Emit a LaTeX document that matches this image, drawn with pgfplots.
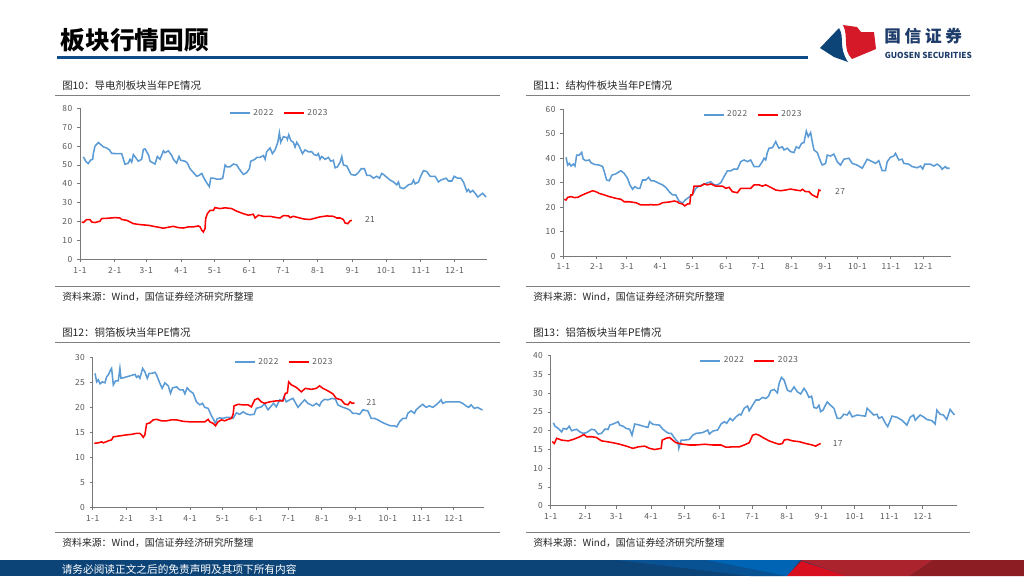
\documentclass[border=0pt]{standalone}
\usepackage{fontspec}
\setmainfont{Noto Sans CJK SC}
\newfontfamily\tickfont[LetterSpace=6]{Noto Sans CJK SC}
\usepackage{pgfplots}
\usepackage{pgfplotstable}
\pgfplotsset{compat=1.18}

\definecolor{txtgray}{RGB}{89,89,89}
\definecolor{axgray}{RGB}{120,120,120}
\definecolor{ttl}{RGB}{38,38,38}
\definecolor{c2022}{RGB}{91,155,213}
\definecolor{c2023}{RGB}{255,0,0}
\definecolor{rulebl}{RGB}{15,75,135}
\definecolor{navy}{RGB}{12,68,120}
\definecolor{logored}{RGB}{213,25,40}
\definecolor{logotxt}{RGB}{30,60,105}
\definecolor{ftblue}{RGB}{0,100,180}
\definecolor{ftmid}{RGB}{8,82,148}
\definecolor{ftred}{RGB}{170,35,45}
\definecolor{ftbright}{RGB}{215,15,30}
\definecolor{ftdark}{RGB}{140,30,35}

% 导电剂 2022 / 2023
\pgfplotstableread{
d v
3.0 54.3
5.4 51.7
7.4 50.8
9.5 52.6
11.3 53.0
11.9 56
13.4 60
16.4 61.9
20.8 59.6
23.8 59
26.2 58
28.3 56.1
37.2 56
40.1 50.4
43.1 51
44.6 53
46.1 51.5
47.6 55.5
52.0 52
55.0 53
56.5 58.2
58.0 58.5
59.5 57
61.3 55
62.5 52
65.4 51
66.9 50.5
69.0 54.5
71.4 53
74.4 57.5
75.8 56.5
78.8 57.5
81.8 55
83.3 53
86.2 51
88.3 54.5
89.8 52.5
93.7 52
95.8 51
98.1 48
101.1 46
104.1 44
106.2 44.5
108.6 45.5
110.6 43
113.6 40
115.4 38.5
116.6 43
119.0 43
121.9 42.5
124.9 42.5
127.3 43
129.4 50
130.9 49
133.8 49
136.8 50.5
139.8 50
141.9 48
145.7 45
148.7 46
151.1 48
152.3 52
156.1 53
157.6 54
160.6 54
163.6 55
165.1 53
166.5 57
169.5 59
171.6 56
174.0 58
176.4 62
177.8 67
179.0 62
181.4 65
184.4 64.5
185.0 63.5
186.2 66
188.0 63
190.3 62
191.8 59.5
193.3 62
195.4 60
196.9 58
198.4 56
200.7 58
203.7 57
206.7 57
208.8 55.5
211.2 55
212.6 56
214.1 53
215.6 54.5
218.6 53
221.6 54
223.6 52
226.0 52.5
227.5 48.5
229.6 49
232.0 51.5
233.5 54.5
234.9 50
237.9 49.5
240.0 47
241.8 45
245.4 44.5
248.3 46
250.7 48
253.7 48
255.8 44.5
258.7 44.5
261.7 43
264.7 44
267.1 43
269.1 45.5
270.6 45
273.6 43.5
276.6 42
279.6 41
282.5 39.5
284.0 41
285.5 38
288.5 37.5
290.0 38
292.9 39.5
295.9 40
297.4 42
298.9 40
301.9 41
303.9 44
306.3 47
309.3 46.5
312.3 44
316.7 44
319.7 41
321.8 42
324.2 42.5
326.5 43
328.6 41.5
331.6 41.5
333.7 44
336.7 43
339.6 43
342.0 41
345.0 36
346.5 37
348.0 35.5
350.3 36.5
352.4 35
354.8 33
356.9 34
359.0 35
360.7 34
362.2 33
}\daoA
\pgfplotstableread{
d v
1.5 19.8
3.0 19.5
5.9 21.1
8.9 21.1
10.4 19.8
13.4 19.5
17.8 20.2
19.3 21.6
25.3 21.8
31.2 22.1
35.7 21.9
37.2 21.1
41.6 20.7
44.6 19.8
47.6 18.9
53.5 18.4
59.5 18.1
62.5 17.9
65.4 17.5
68.4 17.2
74.4 16.5
78.8 17.0
83.3 17.5
87.7 16.8
92.2 16.6
96.7 17.2
101.1 17.2
105.6 17.7
107.1 17.2
108.6 15.4
110.0 14.5
111.5 16.3
112.1 21.6
113.6 24.2
116.0 26.0
119.0 26.0
120.4 27.4
124.9 26.9
129.4 27.3
135.3 26.9
139.8 25.5
145.7 24.2
150.2 23.4
154.6 23.9
156.1 21.9
159.1 23.4
163.6 22.8
169.5 22.8
175.5 22.1
178.4 21.9
181.4 23.2
185.9 23.0
187.4 22.1
190.3 22.8
194.8 22.1
199.3 21.4
205.2 21.1
208.2 21.6
214.1 22.5
220.1 23.0
226.0 22.8
229.0 21.9
232.0 21.9
234.9 21.1
236.4 19.3
238.8 18.9
240.9 20.4
242.4 20.7
}\daoB

% 结构件 2022 / 2023
\pgfplotstableread{
d v
2.5 40.4
4.0 37.2
5.6 37.9
7.1 36.8
9.3 37.6
10.8 36.8
12.4 41.3
14.8 41.3
17.0 42.4
18.5 39.6
21.0 39.0
24.1 39.3
25.6 38.2
28.7 37.5
33.4 37.2
36.5 36.6
38.0 34.5
40.2 31.1
42.6 30.8
45.1 33.1
48.8 33.6
51.9 34.5
53.5 34.9
56.5 33.8
59.6 31.8
61.8 29.1
64.3 27.3
66.4 28.4
68.9 27.7
71.1 27.7
73.5 31.1
76.6 31.1
79.1 32.2
81.3 30.8
84.4 30.7
89.0 29.7
92.1 29.1
95.1 28.1
98.3 26.3
101.4 25.0
104.4 25.0
106.0 23.6
107.5 22.5
110.6 21.6
113.1 22.9
115.3 23.6
118.3 24.6
119.9 25.2
121.4 26.3
123.0 27.7
126.1 28.6
129.2 29.1
132.3 29.7
136.9 30.4
140.0 29.1
143.1 29.1
146.2 30.0
149.2 32.5
152.3 34.8
155.4 34.8
158.5 35.6
161.6 35.5
164.7 38.6
167.8 39.3
170.9 38.6
173.9 39.3
177.1 36.6
181.7 36.6
184.8 38.6
186.3 40.0
187.9 39.3
189.4 42.3
191.0 44.1
194.1 44.3
197.2 46.8
198.7 45.4
200.2 44.1
203.3 44.7
204.9 43.4
208.0 44.1
211.0 42.7
214.1 42.3
216.3 44.7
218.8 44.1
221.2 46.1
223.4 46.4
225.6 51.1
227.4 48.8
229.6 50.5
231.1 46.8
232.7 43.4
235.8 42.3
238.9 38.6
240.4 37.2
243.5 37.9
245.0 41.3
248.1 40.9
251.2 41.7
254.3 38.6
257.4 37.2
260.5 39.6
265.1 40.0
268.2 37.9
272.8 37.2
277.5 35.9
282.1 39.6
286.8 38.6
289.8 37.9
292.9 39.0
296.0 34.9
299.1 34.9
300.7 38.6
303.7 40.4
306.8 40.9
308.4 42.0
311.5 39.3
314.6 39.6
316.1 37.9
320.7 37.6
323.8 36.6
328.5 36.1
331.6 36.8
333.7 35.6
335.6 37.6
340.8 37.6
343.9 36.8
347.0 37.6
350.1 36.6
351.6 35.5
354.7 36.6
356.3 35.9
358.7 35.9
}\jgA
\pgfplotstableread{
d v
0.9 23.2
2.5 22.9
4.0 24.0
7.1 24.3
10.2 23.9
13.3 24.0
17.9 25.0
22.6 25.9
27.2 26.7
30.3 26.3
33.4 25.6
38.0 25.0
42.6 24.3
48.8 23.6
53.5 23.2
56.5 22.2
61.2 22.2
67.4 21.8
72.0 20.9
76.6 20.9
81.3 21.0
85.9 20.9
89.0 21.1
92.1 21.8
98.3 22.1
102.9 22.5
106.0 22.2
107.5 21.6
110.6 21.3
112.8 20.5
115.3 21.3
117.4 21.3
118.3 25.0
119.9 25.0
121.4 28.6
124.5 28.6
127.6 28.6
130.7 29.5
133.8 29.1
136.9 29.5
141.5 28.6
147.7 28.6
150.8 27.7
153.9 28.1
157.0 26.3
161.6 25.9
164.7 27.7
169.3 27.7
173.9 27.7
177.1 29.1
181.7 29.1
184.8 28.6
187.9 29.1
192.5 28.1
197.2 27.0
201.8 26.7
206.4 27.0
211.0 27.4
215.7 27.0
220.3 26.7
221.9 27.3
225.0 26.3
228.0 26.3
231.1 25.0
234.2 24.3
235.8 24.0
237.3 27.0
238.9 26.7
}\jgB

% 铜箔 2022 / 2023
\pgfplotstableread{
d v
2.2 26.8
3.7 25.1
5.2 25.5
6.8 24.7
8.9 25.1
11.4 24.9
12.9 26.1
14.5 26.5
16.6 27.5
17.5 27.8
19.1 24.5
21.2 25.3
23.7 25.3
25.2 27.8
26.2 25.8
29.9 26.0
34.5 26.3
39.1 26.6
40.6 26.0
42.2 26.3
43.7 25.8
46.2 27.8
48.3 27.1
50.5 25.8
52.3 26.8
54.5 26.8
57.6 27.0
59.1 26.5
62.2 24.8
64.3 23.8
66.8 24.9
69.9 24.3
72.0 22.8
73.9 23.9
77.6 24.1
80.6 23.5
83.7 23.5
85.3 22.7
87.4 23.9
89.9 23.3
93.0 22.8
96.0 21.1
99.1 20.5
101.6 20.8
103.7 20.0
106.8 19.8
108.3 19.1
109.9 18.3
112.0 17.5
113.6 16.8
115.1 17.7
117.6 17.9
120.7 17.8
123.7 18.0
126.8 18.0
129.9 17.8
133.0 18.9
136.0 18.6
139.1 19.1
142.2 18.7
145.3 18.5
149.3 18.6
151.4 19.8
156.1 20.1
159.1 20.7
162.2 19.5
165.3 20.3
167.4 20.8
169.9 20.1
173.0 21.5
175.4 21.3
177.0 22.1
179.1 21.1
182.2 21.5
185.3 21.8
189.9 20.0
193.0 20.8
196.1 21.5
199.1 20.8
203.8 20.3
206.9 20.8
209.9 20.3
211.5 21.1
214.5 21.6
217.6 21.5
221.6 21.8
224.7 21.6
226.8 20.5
231.5 20.0
234.5 19.8
237.6 19.5
240.7 18.8
243.8 18.8
246.9 18.6
249.9 19.5
254.5 19.3
257.6 17.8
260.7 17.8
263.8 17.5
266.9 17.1
269.9 16.8
273.0 16.5
276.1 16.3
279.2 16.3
281.3 16.1
283.8 17.1
286.9 17.8
290.0 17.8
291.5 18.8
294.6 19.3
297.6 18.8
299.2 19.5
302.3 20.1
305.3 20.6
308.4 20.0
311.5 20.3
314.6 20.0
317.7 20.5
320.7 21.1
322.3 21.5
323.8 20.8
326.9 21.1
331.5 21.1
336.1 21.1
339.2 21.1
342.3 20.8
345.3 20.3
347.8 20.0
350.0 20.5
353.0 19.8
356.1 20.0
359.2 19.6
360.7 19.5
}\tbA
\pgfplotstableread{
d v
1.5 12.8
5.2 12.9
8.3 13.1
9.9 12.9
14.5 13.3
17.5 13.5
19.1 14.1
25.2 14.3
31.4 14.5
36.0 14.6
40.6 14.8
43.7 14.8
45.2 14.5
46.8 14.0
48.3 14.5
49.9 16.7
52.9 16.9
56.0 17.5
59.1 17.6
63.7 17.3
68.3 17.3
72.9 17.5
77.6 17.5
83.7 17.2
89.9 17.1
96.0 17.1
103.7 17.1
106.8 17.6
108.3 17.1
111.4 16.8
113.6 16.3
116.0 17.1
119.1 17.5
122.2 17.3
125.3 17.6
128.4 17.8
129.9 18.6
130.8 20.3
134.5 20.6
139.1 20.5
143.7 20.5
146.8 20.1
149.9 21.5
152.9 21.8
156.0 21.1
159.1 20.8
163.7 21.1
169.9 21.3
176.1 21.3
178.2 22.8
180.1 22.9
181.3 25.1
183.8 24.5
188.4 24.0
193.0 23.1
196.7 23.8
202.2 23.6
206.9 23.8
209.9 24.3
213.0 23.8
217.6 23.3
222.2 22.7
225.3 21.8
229.9 21.5
233.0 20.7
236.1 20.5
238.2 21.1
240.1 20.8
242.2 20.9
}\tbB

% 铝箔 2022 / 2023
\pgfplotstableread{
d v
2.4 22.1
3.9 21.2
6.9 20.6
9.8 19.7
11.3 20.6
14.3 20.4
16.7 21.2
18.8 20.0
23.2 20.4
26.2 19.7
29.2 19.3
32.2 19.5
36.7 20.4
39.6 20.2
42.6 19.1
45.6 19.3
48.6 20.4
51.6 20.4
53.0 21.5
56.0 21.8
60.5 22.4
62.0 21.5
65.0 21.2
67.9 20.6
70.9 20.4
73.0 18.8
75.4 21.8
79.9 21.5
84.3 21.1
87.3 20.9
88.8 22.4
91.8 21.7
97.7 21.5
100.7 20.4
103.7 19.7
106.1 19.3
108.2 19.3
110.3 18.4
112.6 17.5
114.1 17.1
115.0 15.3
117.1 17.5
120.1 17.5
124.6 17.7
127.5 18.8
130.5 19.3
136.5 19.5
141.0 20.2
142.4 19.1
145.4 19.9
149.9 20.2
152.9 21.8
155.9 22.4
158.0 22.0
161.0 23.3
163.3 22.7
166.3 23.7
169.3 24.4
170.8 24.2
173.7 26.0
176.7 26.6
178.2 25.3
181.2 26.8
184.2 28.2
187.1 28.2
190.1 28.9
193.1 28.6
195.5 29.2
197.6 30.7
200.6 31.0
203.5 30.1
205.0 32.6
207.1 34.2
209.5 33.5
212.5 30.8
215.5 30.4
218.4 31.7
221.4 30.4
224.4 29.8
227.4 31.3
229.5 30.4
231.8 28.9
234.2 29.2
236.3 26.2
238.7 26.0
240.8 26.8
242.3 25.1
244.4 25.5
248.2 27.7
251.2 26.8
254.2 26.0
257.2 23.3
260.2 23.3
263.1 24.4
266.1 24.2
268.2 25.1
270.6 23.7
275.1 24.2
279.5 24.0
282.5 23.9
284.0 26.0
287.0 25.1
289.9 24.2
292.9 24.4
294.4 23.3
297.4 23.7
300.4 22.0
302.5 21.1
304.9 22.8
306.3 23.9
310.8 23.6
315.3 22.8
319.7 21.5
322.7 23.6
325.7 24.2
327.2 22.8
331.6 24.2
334.7 23.7
337.6 23.0
342.1 22.7
345.1 21.8
346.6 25.5
349.6 24.4
352.5 24.2
355.5 23.0
358.5 25.7
360.0 25.1
362.4 24.2
}\lbA
\pgfplotstableread{
d v
1.5 17.1
3.3 16.6
5.4 18.0
9.8 17.5
15.8 17.3
20.3 17.7
26.2 18.4
29.8 19.0
32.2 18.4
36.7 18.4
41.1 18.2
45.6 17.3
50.1 17.1
56.0 16.8
62.0 16.4
67.9 15.9
73.9 15.3
78.4 15.7
84.3 15.9
88.8 15.3
93.3 15.0
99.2 15.3
100.1 17.5
103.7 18.0
106.7 18.2
110.3 17.3
112.6 16.8
118.6 16.4
124.6 16.2
130.5 16.2
138.0 16.4
145.4 16.2
152.9 16.2
157.3 15.6
163.3 15.7
169.3 15.7
173.7 16.2
178.2 16.8
181.2 18.8
184.2 19.1
187.1 18.8
191.6 18.0
196.1 17.3
200.6 16.8
205.0 16.4
208.0 16.6
209.5 17.5
212.5 17.7
217.0 17.3
222.9 17.1
228.9 16.6
234.8 16.2
237.8 15.9
240.8 16.4
242.3 16.6
}\lbB

\pgfplotsset{
  pe/.style={
    scale only axis,
    xmin=0, ymin=0,
    axis lines*=left,
    axis line style={draw=axgray, line width=0.6pt, -},
    tick style={draw=axgray, line width=0.6pt},
    tick align=outside,
    major tick length=2.3pt,
    xtick={0,31,59,90,120,151,181,212,243,273,304,334},
    xticklabels={1-1,2-1,3-1,4-1,5-1,6-1,7-1,8-1,9-1,10-1,11-1,12-1},
    tick label style={font=\tickfont\fontsize{6.3}{7}\selectfont, text=txtgray},
    /pgf/number format/assume math mode=true,
    legend columns=2,
    legend style={at={(0.49,1.03)}, anchor=north, draw=none, fill=none,
      font={\color{txtgray}\tickfont\fontsize{6.3}{7}\selectfont},
      /tikz/every even column/.append style={column sep=5pt}},
    legend image code/.code={\draw[#1, line width=1.5pt] (0pt,0pt) -- (15pt,0pt);},
  },
}

\begin{document}
\begin{tikzpicture}
\fill[white] (0pt,0pt) rectangle (768pt,-432pt);

\begin{scope}[x=0.75pt, y=-0.75pt]
% header
\node[anchor=base west, inner sep=0] at (60.5,49) {\fontsize{18.5}{20}\selectfont\bfseries 板块行情回顾};
\draw[rulebl, line width=2pt] (57,57.3) -- (808,57.3);
% logo
\fill[navy] (820,48) -- (839,28) .. controls (845,38) and (838,47) .. (848,62) -- (834,57) -- cycle;
\fill[logored] (843,25) -- (857,27) -- (861,32) -- (874,32) -- (876,49) -- (852,59) .. controls (842,49) and (849,37) .. cycle;
\node[anchor=west, inner sep=0, text=logotxt] at (884,36) {\fontsize{12.5}{13}\selectfont\bfseries 国\hspace{2.8pt}信\hspace{2.8pt}证\hspace{2.8pt}券};
\node[anchor=west, inner sep=0, text=logotxt] at (884.5,55.5) {\fontsize{6.2}{7}\selectfont\bfseries GUOSEN SECURITIES};

% chart frames
\foreach \xa/\xb/\xt/\ya/\yb/\yc/\yd/\ttxt in {
  55/500/62/86/95/286/296.5/{图10：导电剂板块当年PE情况},
  526/970/533/86/95/286/296.5/{图11：结构件板块当年PE情况},
  55/500/62/332.7/342.7/532.3/543/{图12：铜箔板块当年PE情况},
  526/970/533/332.7/342.7/532.3/543/{图13：铝箔板块当年PE情况}} {
  \node[anchor=west, inner sep=0, text=ttl] at (\xt,\ya) {\fontsize{7.8}{9}\selectfont \ttxt};
  \draw[gray, line width=0.7pt] (\xa,\yb) -- (\xb,\yb);
  \draw[gray, line width=0.7pt] (\xa,\yc) -- (\xb,\yc);
  \node[anchor=west, inner sep=0, text=ttl] at (\xt,\yd) {\fontsize{7.4}{9}\selectfont 资料来源：Wind，国信证券经济研究所整理};
}

% footer
\fill[navy] (0,560) rectangle (1024,576);
\fill[ftmid] (617,560) -- (800,560) -- (787,576) -- (750,576) -- cycle;
\fill[ftblue] (707,560) -- (800,560) -- (787,576) -- cycle;
\fill[ftred] (800,560) -- (933,560) -- (910,576) -- (847,576) -- cycle;
\fill[ftbright] (801,561) -- (787,576) -- (847,576) -- cycle;
\fill[ftdark] (933,560) -- (1024,560) -- (1024,576) -- (910,576) -- cycle;
\node[anchor=west, inner sep=0, text=white] at (61.5,569) {\fontsize{8}{9}\selectfont 请务必阅读正文之后的免责声明及其项下所有内容};
\end{scope}

% chart 10
\begin{axis}[pe, at={(60pt,-194.5pt)}, anchor=south west,
  width=305.25pt, height=113.25pt, xmax=363, ymax=80, ytick distance=10]
\addplot[color=c2022, line width=1.15pt] table[x=d,y=v] {\daoA};
\addlegendentry{2022}
\addplot[color=c2023, line width=1.15pt] table[x=d,y=v] {\daoB};
\addlegendentry{2023}
\node[anchor=west, text=txtgray, font=\tickfont\fontsize{6.3}{7}\selectfont] at (axis cs:250,21) {21};
\end{axis}

% chart 11
\begin{axis}[pe, at={(422.5pt,-192pt)}, anchor=south west,
  width=290.8pt, height=110pt, xmax=360, ymax=60, ytick distance=10]
\addplot[color=c2022, line width=1.15pt] table[x=d,y=v] {\jgA};
\addlegendentry{2022}
\addplot[color=c2023, line width=1.15pt] table[x=d,y=v] {\jgB};
\addlegendentry{2023}
\node[anchor=west, text=txtgray, font=\tickfont\fontsize{6.3}{7}\selectfont] at (axis cs:248,26.5) {27};
\end{axis}

% chart 12
\begin{axis}[pe, at={(69.5pt,-380.5pt)}, anchor=south west,
  width=293.5pt, height=112.5pt, xmax=362, ymax=30, ytick distance=5]
\addplot[color=c2022, line width=1.15pt] table[x=d,y=v] {\tbA};
\addlegendentry{2022}
\addplot[color=c2023, line width=1.15pt] table[x=d,y=v] {\tbB};
\addlegendentry{2023}
\node[anchor=west, text=txtgray, font=\tickfont\fontsize{6.3}{7}\selectfont] at (axis cs:249,20.9) {21};
\end{axis}

% chart 13
\begin{axis}[pe, at={(413pt,-379.3pt)}, anchor=south west,
  width=305pt, height=112.5pt, xmax=365, ymax=40, ytick distance=5]
\addplot[color=c2022, line width=1.15pt] table[x=d,y=v] {\lbA};
\addlegendentry{2022}
\addplot[color=c2023, line width=1.15pt] table[x=d,y=v] {\lbB};
\addlegendentry{2023}
\node[anchor=west, text=txtgray, font=\tickfont\fontsize{6.3}{7}\selectfont] at (axis cs:249,16.5) {17};
\end{axis}
\end{tikzpicture}
\end{document}
